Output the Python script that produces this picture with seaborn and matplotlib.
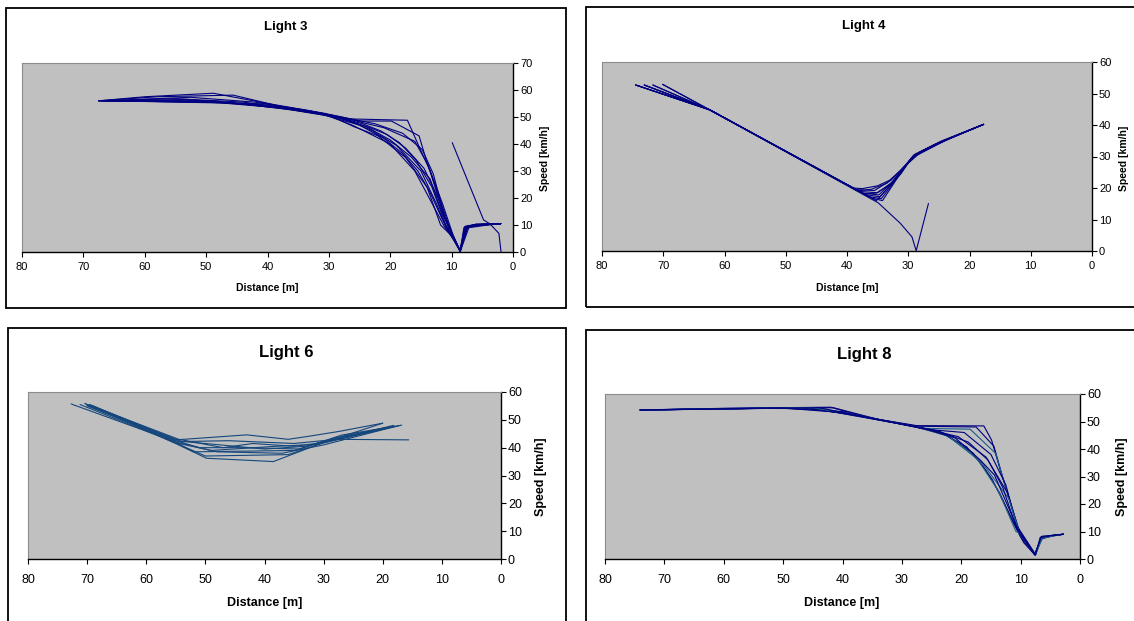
import matplotlib
matplotlib.use("Agg")
import matplotlib.pyplot as plt
from matplotlib.patches import Rectangle
import pandas as pd
import seaborn as sns

# ===========================
# DATA
# ===========================

light3_dist = [
    [67.5, 60, 48.8, 40, 33, 27, 17.2, 15.2, 13.5, 11.5, 9.8, 8.6, 7.8, 6, 2],
    [67.5, 58, 45.6, 38, 31, 25, 19.8, 15.3, 14, 12, 10, 8.6, 8, 5, 2],
    [67, 52.6, 42, 35, 29, 22.5, 18, 14.8, 13, 11, 8.7, 7.6, 4, 2],
    [66.5, 52.6, 40, 33, 27, 21, 16, 13.8, 11.5, 9.5, 8.6, 7.5, 3, 2],
    [67.5, 55, 44, 36, 30, 24, 20, 16.5, 13.5, 11.5, 9.5, 8.6, 7.2, 3.5, 2],
    [67, 52, 41, 34, 28, 23, 19, 15, 12.5, 11, 8.6, 7.4, 2],
    [67.5, 50, 40, 32, 25, 21, 18, 15.5, 13.5, 11.5, 10.2, 8.6, 7.6, 5.5, 2],
    [66, 47.5, 38, 30, 26, 22, 17.5, 14, 11.8, 10, 8.6, 7.3, 2],
    [67.5, 53, 39, 31, 26, 20, 16, 11.2, 9.5, 8.6, 7.7, 6.5, 2],
    [67, 49, 37, 29, 24.5, 21.5, 18.5, 15.8, 13.2, 10.8, 8.6, 7.9, 6, 2],
    [66.5, 46, 36, 28.5, 23.5, 20.5, 17.5, 14.5, 12.2, 10.4, 8.6, 7.5, 2],
    [9.9, 4.8, 3.75, 2.3, 1.95],
]
light3_speed = [
    [56, 57.5, 58.8, 55, 52.3, 49.3, 48.8, 38.5, 30, 15, 6, 0.3, 9.5, 10.3, 10.5],
    [56, 57.5, 58.1, 54, 51.5, 48.5, 48.5, 43, 33, 20, 7, 0.5, 9, 10.3, 10.5],
    [56, 57.3, 55.5, 52.8, 50.5, 47.5, 44, 38, 29, 12, 0.8, 9.2, 10.4, 10.5],
    [56, 55.7, 54.8, 52.2, 49.3, 46, 41, 32, 18, 4.5, 0.4, 9.6, 10.4, 10.5],
    [56, 56.8, 55.5, 53, 50.8, 46.5, 41.5, 35, 27, 14, 5, 0.2, 9, 10.2, 10.5],
    [56, 56, 54.5, 52, 49.8, 45, 39.5, 30, 18, 9.5, 0.5, 9.4, 10.5],
    [56, 55.5, 54.3, 51.5, 47, 42, 36.5, 30, 22, 12, 7, 0.3, 8.8, 10.2, 10.5],
    [56, 55.2, 53.4, 50.8, 46.5, 43, 35, 24, 10, 6, 0.4, 9.7, 10.5],
    [56, 56.5, 53.8, 51.2, 46.8, 40, 30, 9.5, 4, 0.2, 8.5, 10, 10.5],
    [56, 56, 53, 50.2, 47.5, 44.8, 40.5, 34, 24, 9, 0.3, 9.3, 10.3, 10.5],
    [56, 55.4, 52.6, 49.8, 46.2, 43.5, 38.5, 31, 20, 8, 0.2, 9.5, 10.5],
    [40.5, 11.9, 10.4, 6.9, 0.1],
]

light4_dist = [
    [74.5, 62.4, 39, 37.5, 35, 33, 31, 29.5, 27, 22.6, 17.7],
    [73.1, 62.4, 38.5, 35.5, 32.8, 30.5, 29, 25, 17.7],
    [71.7, 62.4, 38, 35, 32.5, 30.2, 28.5, 24, 17.7],
    [70.1, 62.4, 37.5, 34.8, 32.3, 30, 28, 23.5, 17.7],
    [74.5, 62.4, 37, 34.6, 32, 29.8, 27.5, 23, 17.7],
    [73.1, 62.4, 36.5, 34.4, 31.7, 29.5, 26, 17.7],
    [71.7, 62.4, 36, 34.2, 31.5, 29.3, 25.5, 17.7],
    [70.1, 62.4, 35.2, 31.2, 29.1, 24.5, 17.7],
    [74.5, 62.4, 38.2, 36, 33.5, 31.3, 28.8, 24.8, 17.7],
    [73.1, 62.4, 37.2, 35.2, 33, 30.8, 28.3, 22, 17.7],
    [74.5, 62.4, 34.9, 31.3, 29.4, 28.7, 26.7],
]
light4_speed = [
    [52.7, 44.8, 20, 19.8, 20.7, 22.5, 26, 29.5, 32.5, 36.3, 40.2],
    [52.7, 44.8, 19.5, 19.2, 22.5, 27, 30, 34.3, 40.2],
    [52.7, 44.8, 18.9, 18.5, 22, 27.5, 30.5, 35, 40.2],
    [52.9, 44.8, 18.4, 17.8, 22.5, 28, 31.5, 35.5, 40.2],
    [52.7, 44.8, 17.9, 17.2, 23, 28.6, 32, 36, 40.2],
    [52.7, 44.8, 17.3, 16.6, 23.5, 29.5, 33.5, 40.2],
    [52.7, 44.8, 16.8, 16, 24, 30, 34, 40.2],
    [52.9, 44.8, 16, 24.5, 30.5, 35, 40.2],
    [52.7, 44.8, 19.1, 19.6, 21.5, 25.5, 30.8, 34.6, 40.2],
    [52.7, 44.8, 18.1, 18.4, 21, 26.5, 31.2, 36.8, 40.2],
    [52.7, 44.8, 15.3, 8.8, 4.5, 0.1, 15.1],
]

light6_dist = [
    [72.7, 57.5, 49.8, 38.5, 30.5, 20],
    [71.2, 56.5, 50, 36, 29, 18.2],
    [70.4, 56, 52, 35, 28, 16.8],
    [69.6, 55, 51, 43, 34, 27, 18.2],
    [69, 55.5, 48, 37, 30, 17.5],
    [70, 55, 43, 36, 32.8, 27.5, 20],
    [69.5, 54, 46, 35, 27.8, 15.6],
    [70, 55.3, 50, 40, 33, 28, 18.5],
    [69.8, 54.5, 47, 42, 35, 29.5, 17],
    [70.2, 56, 49, 38, 31, 18],
]
light6_speed = [
    [55.7, 44, 36.2, 35, 41.5, 48.8],
    [55.5, 43, 37, 37.5, 42.5, 48],
    [55.9, 43, 38.5, 39, 43.5, 48.1],
    [55.5, 42.5, 40, 40, 39.5, 44.5, 47.6],
    [55, 42, 38.5, 38, 41, 47.8],
    [55.2, 42.8, 44.6, 43, 44, 45.8, 48.8],
    [55.4, 42.2, 42.5, 41.5, 43, 42.8],
    [55, 42.5, 41.5, 39.5, 40.5, 43.5, 47.5],
    [55.3, 43, 40, 41.5, 40.5, 42, 48],
    [55.6, 42.5, 39, 40.5, 41.2, 47.8],
]

light8_dist = [
    [74.1, 60, 42, 36, 27.5, 16.2, 14.9, 13.5, 10.2, 7.6, 6.6, 4.8, 2.8],
    [74.1, 58, 41.5, 34, 27.5, 17.5, 14.5, 13.2, 10.3, 7.5, 6.5, 4.8, 2.8],
    [72.5, 55, 43, 33, 26, 18.5, 14.2, 12.8, 10.4, 7.6, 6.3, 4.5, 2.8],
    [74.1, 52, 44, 32, 25, 19.5, 15, 12.5, 10.6, 7.6, 6.4, 4.2, 2.8],
    [73, 50, 40, 31, 24.5, 20.5, 15.8, 12.2, 10.5, 7.5, 6.6, 4.5, 2.8],
    [74.1, 48, 39, 30, 23.6, 21.5, 16.5, 12, 10.2, 7.6, 6.2, 4, 2.8],
    [72.5, 47, 38, 29, 23.6, 19.1, 16.3, 13.5, 11.2, 9.5, 7.6, 6.5, 2.8],
    [74.1, 46, 37, 28, 22.5, 18, 14.8, 11.8, 10, 7.6, 6.6, 4.6, 2.8],
    [73, 45, 36, 27, 22, 17.5, 13.8, 10.8, 10.3, 7.5, 6.4, 2.8],
    [74.1, 50, 41, 30, 24, 18.8, 15.5, 13, 10.9, 7.6, 6.5, 2.8],
    [73, 44, 35, 26.5, 21, 16.8, 14.4, 12.4, 10.1, 7.5, 6.7, 4, 2.8],
]
light8_speed = [
    [54.2, 54.8, 55.2, 51.5, 48.5, 48.4, 43.3, 33, 10, 1.5, 7.5, 8.4, 9],
    [54.2, 54.8, 55, 50.8, 48.3, 48, 41, 31, 10.5, 1.5, 8, 8.5, 9],
    [54.2, 54.8, 54.6, 50.2, 47.5, 47.2, 38.4, 28, 11, 1.5, 8.3, 8.6, 9],
    [54.2, 54.9, 54.4, 49.8, 47, 46, 38, 27, 12, 2, 7.8, 8.7, 9],
    [54.2, 54.9, 53.6, 49.4, 46.5, 44.5, 37, 24, 11, 1.5, 7.2, 8.5, 9],
    [54.2, 55, 53, 49, 46.3, 43.5, 35, 22, 9.5, 1.5, 8, 8.8, 9],
    [54.2, 55, 52.5, 48.6, 46.3, 40.8, 33.6, 23.9, 13, 6, 1.5, 7.8, 9],
    [54.2, 55, 52, 48.2, 45, 38.5, 29, 16, 8, 1.5, 7.5, 8.6, 9],
    [54.2, 55, 51.5, 47.8, 44.5, 37, 25, 10, 9.5, 1.5, 7.6, 9],
    [54.2, 54.9, 53.4, 49, 46.6, 42.5, 36, 26, 12.5, 1.5, 8.2, 9],
    [54.2, 55, 51.2, 47.6, 44, 36, 30.5, 20.5, 9, 1.5, 7.9, 8.7, 9],
]

panel_titles = ["Light 3", "Light 4", "Light 6", "Light 8"]
y_max = [70, 60, 60, 60]
x_ticks = [0, 10, 20, 30, 40, 50, 60, 70, 80]

# ===========================
# LAYOUT (pixels)
# ===========================

W, H = 1134, 621
NAVY = "#000080"
TEAL = "#1A5C8C"


def frac_rect(left, top, right, bottom):
    return [left / W, 1 - bottom / H, (right - left) / W, (bottom - top) / H]


def to_frame(dists, speeds):
    rows = []
    for i, (xs, ys) in enumerate(zip(dists, speeds)):
        for order, (x, y) in enumerate(zip(xs, ys)):
            rows.append({"trace": i, "order": order, "dist": x, "speed": y})
    return pd.DataFrame(rows)


sns.set_theme(style="white")
plt.rcParams["font.family"] = ["Liberation Sans", "DejaVu Sans"]
plt.rcParams["text.color"] = "black"

fig = plt.figure(figsize=(W / 100, H / 100), dpi=100)
fig.patch.set_facecolor("white")

panels = [
    dict(data=(light3_dist, light3_speed), plot=(22, 63, 513, 252), box=(6, 8, 566, 308),
         title_xy=(286, 27), title_fs=9.5, xlab_xy=(267, 288), ylab_xy=(545, 158),
         lab_fs=7.5, tick_fs=8, xpad=4.0, colors=[NAVY] * 12),
    dict(data=(light4_dist, light4_speed), plot=(602, 62, 1092, 251), box=(586, 7, 1145, 307),
         title_xy=(864, 26), title_fs=9.5, xlab_xy=(847, 288), ylab_xy=(1124, 158),
         lab_fs=7.5, tick_fs=8, xpad=4.0, colors=[NAVY] * 11),
    dict(data=(light6_dist, light6_speed), plot=(28, 392, 501, 559), box=(8, 328, 566, 640),
         title_xy=(286, 352), title_fs=12, xlab_xy=(265, 603), ylab_xy=(541, 477),
         lab_fs=9, tick_fs=9, xpad=7.0, colors=["#15477C"] * 10),
    dict(data=(light8_dist, light8_speed), plot=(605, 394, 1080, 559), box=(586, 330, 1145, 640),
         title_xy=(864, 355), title_fs=12, xlab_xy=(842, 603), ylab_xy=(1122, 477),
         lab_fs=9, tick_fs=9, xpad=7.0,
         colors=[NAVY, NAVY, TEAL, NAVY, NAVY, TEAL, NAVY, NAVY, "#206A80", NAVY, NAVY]),
]

for p, title, ymax in zip(panels, panel_titles, y_max):
    bl, bt, br, bb = p["box"]
    fig.patches.append(Rectangle((bl / W, 1 - bb / H), (br - bl) / W, (bb - bt) / H,
                                 transform=fig.transFigure, fill=False,
                                 edgecolor="black", linewidth=1.3))

    ax = fig.add_axes(frac_rect(*p["plot"]))
    ax.set_facecolor("#C0C0C0")

    df = to_frame(*p["data"])
    sns.lineplot(data=df, x="dist", y="speed", hue="trace", units="trace",
                 estimator=None, sort=False, palette=p["colors"],
                 linewidth=0.8, legend=False, ax=ax)

    ax.set_xlim(80, 0)
    ax.set_ylim(0, ymax)
    ax.set_xticks(x_ticks)
    ax.set_yticks(list(range(0, ymax + 1, 10)))
    ax.yaxis.tick_right()
    ax.tick_params(axis="x", direction="out", length=3.5, width=0.8, pad=p["xpad"],
                   labelsize=p["tick_fs"], colors="black", bottom=True)
    ax.tick_params(axis="y", direction="out", length=3.5, width=0.8, pad=1.5,
                   labelsize=p["tick_fs"], colors="black", right=True, left=False)
    ax.set_xlabel("")
    ax.set_ylabel("")
    ax.grid(False)
    for side in ["left", "top"]:
        ax.spines[side].set_color("#8C8C8C")
        ax.spines[side].set_linewidth(0.8)
    for side in ["bottom", "right"]:
        ax.spines[side].set_color("black")
        ax.spines[side].set_linewidth(1.0)

    tx, ty = p["title_xy"]
    fig.text(tx / W, 1 - ty / H, title, ha="center", va="center",
             fontsize=p["title_fs"], fontweight="bold")
    lx, ly = p["xlab_xy"]
    fig.text(lx / W, 1 - ly / H, "Distance [m]", ha="center", va="center",
             fontsize=p["lab_fs"], fontweight="bold")
    yx, yy = p["ylab_xy"]
    fig.text(yx / W, 1 - yy / H, "Speed [km/h]", ha="center", va="center",
             rotation=90, fontsize=p["lab_fs"], fontweight="bold")

fig.savefig("out.png", dpi=100)
